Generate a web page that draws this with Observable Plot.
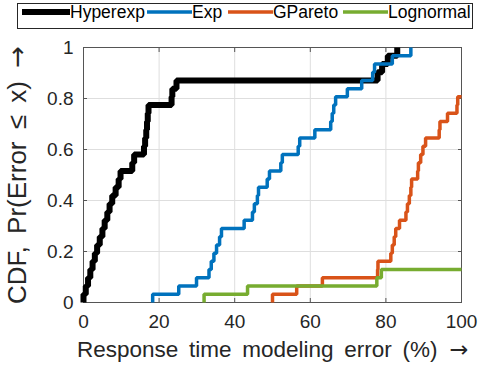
<!DOCTYPE html>
<html>
<head>
<meta charset="utf-8">
<script src="https://cdn.jsdelivr.net/npm/d3@7"></script>
<script src="https://cdn.jsdelivr.net/npm/@observablehq/plot@0.6"></script>
<style>
  html, body { margin: 0; padding: 0; background: #fff; }
  body { width: 483px; height: 368px; overflow: hidden; font-family: "Liberation Sans", Arial, sans-serif; }
  #legend { position: relative; height: 35px; }
  #legend .box { position: absolute; left: 17px; top: 3px; width: 454px; height: 24px; border: 1px solid #262626; background: #fff; }
  #legend .item { position: absolute; top: 0; height: 24px; display: flex; align-items: center; font-size: 17.5px; color: #000; }
  #legend svg { display: block; }
  #chart svg { display: block; }
  #chart g[aria-label="x-axis label"] text { font-size: 22.5px; fill: #262626; word-spacing: 4.5px; }
  #chart g[aria-label="y-axis label"] text { font-size: 26px; fill: #262626; word-spacing: 5px; }
  #chart .arrow { font-family: "DejaVu Sans", sans-serif; }
</style>
</head>
<body>
<div id="legend"><div class="box"></div></div>
<div id="chart"></div>
<script>
// ---- data (sorted error samples, %) ----
const N = 31; // samples per model
const seriesNames = ["Hyperexp", "Exp", "GPareto", "Lognormal"];
const hyperexp = [0, 0.6, 1.2, 1.8, 2.4, 3.0, 3.6, 4.3, 5.0, 5.6, 6.3, 6.9, 7.6, 8.5, 9.3, 9.8,
  12.9, 13.4, 16.0, 16.3, 16.6, 16.8, 17.0, 17.2, 23.3, 23.5, 24.6, 77.8, 79.0, 80.5, 83.0];
const expo = [18.3, 25.2, 29.9, 33.2, 33.8, 34.5, 35.2, 36.0, 36.5, 42.5, 44.7, 45.2, 46.0, 46.3,
  48.6, 49.2, 52.2, 52.6, 56.8, 57.2, 61.2, 65.4, 65.8, 66.2, 66.7, 69.8, 73.6, 76.5, 77.0, 81.7, 86.6];
const gpareto = [50.0, 56.4, 63.2, 77.8, 77.9, 81.3, 81.7, 82.2, 82.6, 83.6, 85.3, 85.7, 86.2, 86.6,
  86.8, 88.4, 88.6, 89.2, 89.8, 90.5, 94.1, 94.3, 96.3, 98.8, 99.0];
const lognormal = [31.9, 43.4, 77.6, 78.8];
const xTicks = [0, 20, 40, 60, 80, 100];
const yTicks = [0, 0.2, 0.4, 0.6, 0.8, 1];
const xLabel = "Response time modeling error (%)";
const yLabel = "CDF, Pr(Error ≤ x)";

// ---- styles ----
const colors = ["#000000", "#0072BD", "#D95319", "#77AC30"];
const widths = [6, 3.5, 3.5, 3.5];
const xDomain = [0, 100];
const yDomain = [0, 1];

function ecdf(vals, name) {
  const pts = [{x: vals[0], y: 0, name}];
  vals.forEach((v, i) => pts.push({x: v, y: (i + 1) / N, name}));
  if (vals.length < N) pts.push({x: xDomain[1], y: vals.length / N, name});
  return pts;
}
const allSeries = [hyperexp, expo, gpareto, lognormal].map((v, i) => ecdf(v, seriesNames[i]));

// ---- legend ----
const legend = document.querySelector("#legend");
const legendLeft = [5, 130, 211, 326];
const lineLen = [48, 45, 45, 45];
seriesNames.forEach((name, i) => {
  const it = document.createElement("div");
  it.className = "item";
  it.style.left = (17 + legendLeft[i]) + "px";
  const s = d3.create("svg").attr("width", lineLen[i]).attr("height", 10);
  s.append("line").attr("x1", 0).attr("x2", lineLen[i]).attr("y1", 5).attr("y2", 5)
    .attr("stroke", colors[i]).attr("stroke-width", widths[i]);
  it.appendChild(s.node());
  const t = document.createElement("span");
  t.textContent = name;
  it.appendChild(t);
  legend.appendChild(it);
});

// ---- chart ----
const tickFont = 19;
const chart = Plot.plot({
  width: 483,
  height: 333,
  marginTop: 12,
  marginBottom: 66,
  marginLeft: 83,
  marginRight: 22,
  style: {fontFamily: "Liberation Sans, Arial, sans-serif", fontSize: tickFont + "px", color: "#262626", background: "#fff"},
  x: {domain: xDomain},
  y: {domain: yDomain},
  marks: [
    Plot.gridX(xTicks, {stroke: "#dedede", strokeOpacity: 1, strokeWidth: 1}),
    Plot.gridY(yTicks, {stroke: "#dedede", strokeOpacity: 1, strokeWidth: 1}),
    Plot.frame({stroke: "#555", strokeWidth: 1}),
    Plot.axisX({ticks: xTicks, tickSize: -4, tickPadding: 16, stroke: "#555", fontSize: tickFont,
      label: xLabel, labelAnchor: "center", labelOffset: 54, labelArrow: "none"}),
    Plot.axisX({anchor: "top", ticks: xTicks, tickSize: -4, tickFormat: () => "", stroke: "#555", label: null}),
    Plot.axisY({ticks: yTicks, tickSize: -4, tickPadding: 14, stroke: "#555", fontSize: tickFont,
      tickFormat: d3.format("~g"),
      label: yLabel, labelAnchor: "center", labelOffset: 76, labelArrow: "none"}),
    Plot.axisY({anchor: "right", ticks: yTicks, tickSize: -4, tickFormat: () => "", stroke: "#555", label: null}),
    ...allSeries.map((d, i) => Plot.line(d, {
      x: "x", y: "y", curve: "step-after", stroke: colors[i], strokeWidth: widths[i],
      strokeLinejoin: "miter", strokeLinecap: "butt"
    }))
  ]
});
// add the arrow glyph to each axis label
d3.select(chart).selectAll('g[aria-label="x-axis label"] text, g[aria-label="y-axis label"] text')
  .each(function() {
    d3.select(this).append("tspan").attr("class", "arrow").text(" →");
  });
document.querySelector("#chart").appendChild(chart);
</script>
</body>
</html>
